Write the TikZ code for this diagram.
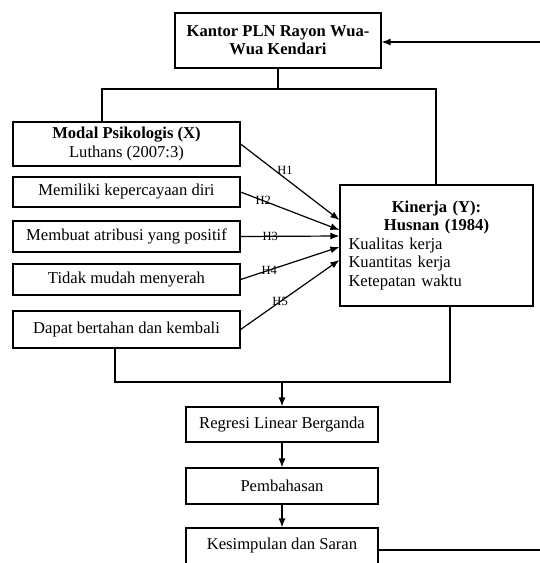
\documentclass[tikz,border=0pt]{standalone}
\usepackage{fontspec}
\setmainfont{Liberation Serif}
\usetikzlibrary{arrows.meta,positioning,calc}
\tikzset{
  kbox/.style={draw, line width=1.2pt, align=center, inner sep=2pt, font=\fontsize{16.6}{18.5}\selectfont},
  kline/.style={line width=1.2pt},
  karrow/.style={line width=1.2pt, -{Latex[length=9pt,width=7pt]}},
  klabel/.style={font=\fontsize{12.5}{14}\selectfont, inner sep=1pt}
}
\begin{document}
\begin{tikzpicture}[x=1pt,y=-1pt]
\useasboundingbox (0,0) rectangle (540,563);
\node[kbox, minimum width=206pt, minimum height=55pt, font=\fontsize{16.6}{18}\selectfont\bfseries] (kantor) at (278,40.5) {Kantor PLN Rayon Wua-\\Wua Kendari};

\node[kbox, minimum width=227pt, minimum height=44pt] (modal) at (126.5,144) {\textbf{Modal Psikologis (X)}\\Luthans (2007:3)};
\node[kbox, minimum width=227pt, minimum height=30pt] (memiliki) at (126.5,192) {Memiliki kepercayaan diri};
\node[kbox, minimum width=227pt, minimum height=31pt] (membuat) at (126.5,236.5) {Membuat atribusi yang positif};
\node[kbox, minimum width=227pt, minimum height=31pt] (tidak) at (126.5,279.5) {Tidak mudah menyerah};
\node[kbox, minimum width=227pt, minimum height=37pt] (dapat) at (126.5,329.5) {Dapat bertahan dan kembali};

\node[kbox, minimum width=193pt, minimum height=121pt, text width=176pt, align=left] (kinerja) at (436.5,245.5) {\centering\textbf{Kinerja (Y):}\\\textbf{Husnan (1984)}\par\raggedright Kualitas kerja\\Kuantitas kerja\\Ketepatan waktu\par\vspace*{10pt}};

\node[kbox, minimum width=192pt, minimum height=35pt] (regresi) at (282,424.5) {Regresi Linear Berganda};
\node[kbox, minimum width=192pt, minimum height=36pt] (pembahasan) at (282,486) {Pembahasan};
\node[kbox, minimum width=192pt, minimum height=36pt] (kesimpulan) at (282,546) {Kesimpulan dan Saran};

\coordinate (splitL) at (102,89);
\coordinate (splitR) at (436,89);
\draw[kline] (kantor.south) -- (kantor.south |- splitL);
\draw[kline] (modal.north -| splitL) -- (splitL) -- (splitR) -- (splitR |- kinerja.north);

\foreach \src/\dy/\hyp/\p/\sh in {modal/-25.5/H1/0.45/8, memiliki/-15.5/H2/0.23/0, membuat/-9.5/H3/0.3/0, tidak/1.5/H4/0.29/0, dapat/14.5/H5/0.4/0}
  \draw[karrow] (\src.east) -- ($(kinerja.west)+(0,\dy)$) node[klabel, pos=\p, yshift=\sh pt] {\hyp};

\coordinate (joinL) at (115,382);
\coordinate (joinR) at (450,382);
\draw[kline] (dapat.south -| joinL) -- (joinL) -- (joinR) -- (joinR |- kinerja.south);
\draw[karrow] (regresi.north |- joinL) -- (regresi.north);
\draw[karrow] (regresi) -- (pembahasan);
\draw[karrow] (pembahasan) -- (kesimpulan);

\coordinate (backB) at (540,550);
\coordinate (backT) at (540,42);
\draw[kline] (kesimpulan.east |- backB) -- (backB);
\draw[karrow] (backT) -- (kantor.east |- backT);
\end{tikzpicture}
\end{document}
